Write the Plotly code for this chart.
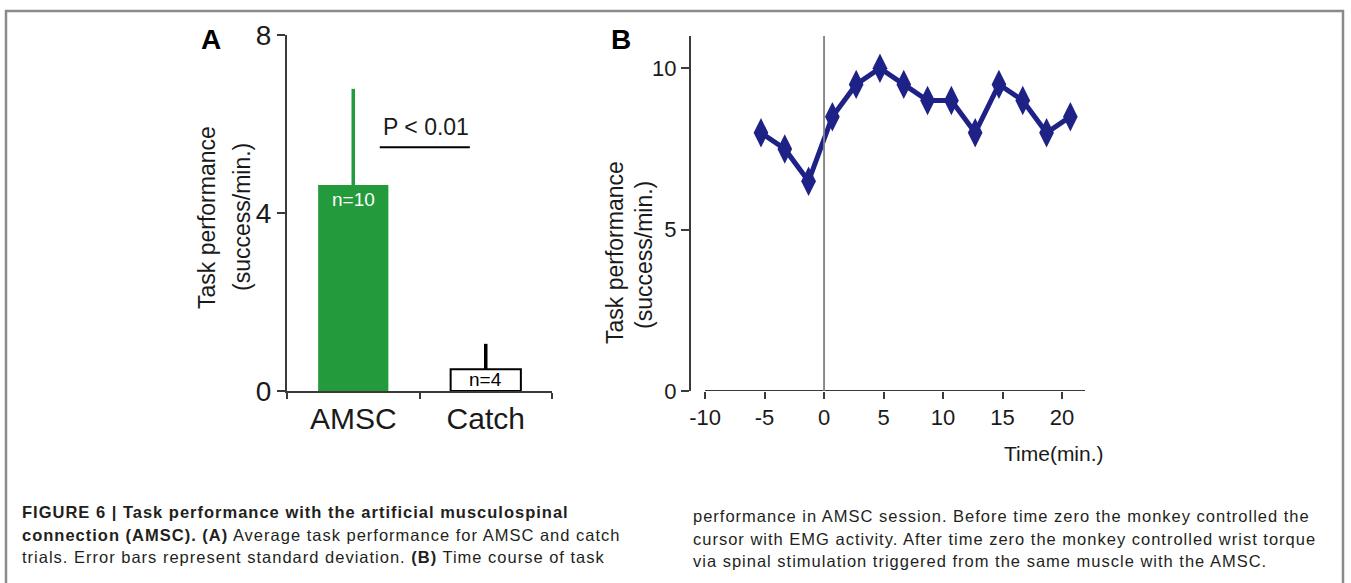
import plotly.graph_objects as go

# ---------------- data ----------------
categories = ["AMSC", "Catch"]
mean_perf = [4.63, 0.49]
sd_perf = [2.16, 0.57]
n_values = [10, 4]

time_min = [-5.3, -3.3, -1.3, 0.7, 2.7, 4.7, 6.7, 8.7, 10.7, 12.7, 14.7, 16.7, 18.7, 20.7]
perf_time = [8.0, 7.5, 6.5, 8.5, 9.5, 10.0, 9.5, 9.0, 9.0, 8.0, 9.5, 9.0, 8.0, 8.5]

yticks_a = [0, 4, 8]
yticks_b = [0, 5, 10]
xticks_b = [-10, -5, 0, 5, 10, 15, 20]

W, H = 1351, 583
NARROW = "Liberation Sans Narrow, Arial Narrow, Liberation Sans, Arial, sans-serif"
SANS = "Liberation Sans, Arial, Helvetica, sans-serif"
GREEN = "#239a3b"
NAVY = "#1e2287"
AX = "#3a3a3a"
TXT = "#1a1a1a"


def px(x):
    return x / W


def py(y):
    return 1 - y / H


fig = go.Figure()

# Panel A bars
fig.add_trace(go.Bar(
    x=[categories[0]], y=[mean_perf[0]], width=0.53,
    marker=dict(color=GREEN, line=dict(color=GREEN, width=0)),
    error_y=dict(type="data", array=[sd_perf[0]], arrayminus=[0], symmetric=False,
                 color=GREEN, thickness=3.5, width=0),
    xaxis="x", yaxis="y", showlegend=False, hoverinfo="skip"))
fig.add_trace(go.Bar(
    x=[categories[1]], y=[mean_perf[1]], width=0.53,
    marker=dict(color="white", line=dict(color="black", width=2)),
    error_y=dict(type="data", array=[sd_perf[1]], arrayminus=[0], symmetric=False,
                 color="black", thickness=3.5, width=0),
    xaxis="x", yaxis="y", showlegend=False, hoverinfo="skip"))

# Panel B line
fig.add_trace(go.Scatter(
    x=time_min, y=perf_time, mode="lines+markers",
    line=dict(color=NAVY, width=5),
    marker=dict(symbol="diamond-tall", size=21, color=NAVY),
    xaxis="x2", yaxis="y2", showlegend=False, hoverinfo="skip"))


def ann(x, y, text, size, color=TXT, family=NARROW, xref="paper", yref="paper",
        xanchor="center", yanchor="middle", angle=0, yshift=0):
    return dict(x=x, y=y, xref=xref, yref=yref, text=text, showarrow=False,
                xanchor=xanchor, yanchor=yanchor, textangle=angle, yshift=yshift,
                font=dict(family=family, size=size, color=color))


annotations = []
# n labels
annotations.append(ann(categories[0], mean_perf[0], f"n={n_values[0]}", 19, "white",
                       xref="x", yref="y", yanchor="top", yshift=-2))
annotations.append(ann(categories[1], 0, f"n={n_values[1]}", 19, "black",
                       xref="x", yref="y", yanchor="bottom", yshift=-1))
# P value
annotations.append(ann(0.55, 5.93, "P < 0.01", 23, xref="x", yref="y"))
# y titles (one annotation per line)
annotations.append(ann(px(207), py(218), "Task performance", 23, angle=-90))
annotations.append(ann(px(242), py(217), "(success/min.)", 23, angle=-90))
annotations.append(ann(px(615), py(253), "Task performance", 23, angle=-90))
annotations.append(ann(px(644), py(255), "(success/min.)", 23, angle=-90))
# x title B
annotations.append(ann(px(1054), py(453), "Time(min.)", 21))
# panel labels
annotations.append(ann(px(211), py(40), "<b>A</b>", 28, "black", family=SANS))
annotations.append(ann(px(621), py(40), "<b>B</b>", 28, "black", family=SANS))

# caption
cap_left = [
    "<b>FIGURE 6 | Task performance with the artificial musculospinal</b>",
    "<b>connection (AMSC). (A)</b> Average task performance for AMSC and catch",
    "trials. Error bars represent standard deviation. <b>(B)</b> Time course of task",
]
cap_right = [
    "performance in AMSC session. Before time zero the monkey controlled the",
    "cursor with EMG activity. After time zero the monkey controlled wrist torque",
    "via spinal stimulation triggered from the same muscle with the AMSC.",
]
SP = '<span style="letter-spacing:1px">'
for i, t in enumerate(cap_left):
    annotations.append(ann(px(20), py(512 + 22.5 * i), SP + t + "</span>", 16.5, "#231f20",
                           family=SANS, xanchor="left"))
for i, t in enumerate(cap_right):
    annotations.append(ann(px(691), py(516 + 22.5 * i), SP + t + "</span>", 16.5, "#231f20",
                           family=SANS, xanchor="left"))

shapes = [
    # outer border
    dict(type="rect", xref="paper", yref="paper", x0=px(6), x1=px(1343), y0=-0.05, y1=py(11),
         line=dict(color="#8a8a8a", width=2.5), fillcolor="rgba(0,0,0,0)"),
    # P-value bar
    dict(type="line", xref="x", yref="y", x0=0.2, x1=0.88, y0=5.48, y1=5.48,
         line=dict(color="black", width=2)),
    # panel B x axis line
    dict(type="line", xref="x2", yref="y2", x0=-10, x1=21.93, y0=0, y1=0,
         line=dict(color=AX, width=2)),
    # time zero line
    dict(type="line", xref="x2", yref="y2", x0=0, x1=0, y0=0, y1=11,
         line=dict(color="#808080", width=1.8)),
]

common = dict(automargin=False, showgrid=False, zeroline=False, ticks="outside",
              tickwidth=2, tickcolor=AX)

fig.update_layout(
    width=W, height=H, margin=dict(l=0, r=0, t=0, b=0, autoexpand=False),
    paper_bgcolor="white", plot_bgcolor="white",
    barmode="overlay", showlegend=False,
    annotations=annotations, shapes=shapes,
    xaxis=dict(domain=[px(287), px(552)], type="category", categoryorder="array",
               categoryarray=categories, range=[-0.5, 1.5], anchor="y",
               showline=True, linecolor=AX, linewidth=2, tickson="boundaries",
               ticklen=6, tickfont=dict(family=NARROW, size=30, color=TXT), **common),
    yaxis=dict(domain=[py(391), py(35)], range=[0, 8], tickvals=yticks_a, anchor="x",
               showline=True, linecolor=AX, linewidth=2, ticklen=8,
               tickfont=dict(family=NARROW, size=28, color=TXT), **common),
    xaxis2=dict(domain=[px(691), px(1085)], range=[-11.18, 21.93], tickvals=xticks_b,
                ticktext=[str(v) for v in xticks_b],
                anchor="y2", showline=False, ticklen=7,
                tickfont=dict(family=NARROW, size=22, color=TXT), **common),
    yaxis2=dict(domain=[py(391), py(36)], range=[0, 11], tickvals=yticks_b,
                ticktext=[str(v) for v in yticks_b], anchor="x2",
                showline=True, linecolor=AX, linewidth=2, ticklen=8,
                tickfont=dict(family=NARROW, size=22, color=TXT), **common),
)

# remove the browser's default 8px page margin so the figure sits at the window origin
fig.write_html("out.html", config={"displayModeBar": False},
               post_script="document.body.style.margin='0';")
